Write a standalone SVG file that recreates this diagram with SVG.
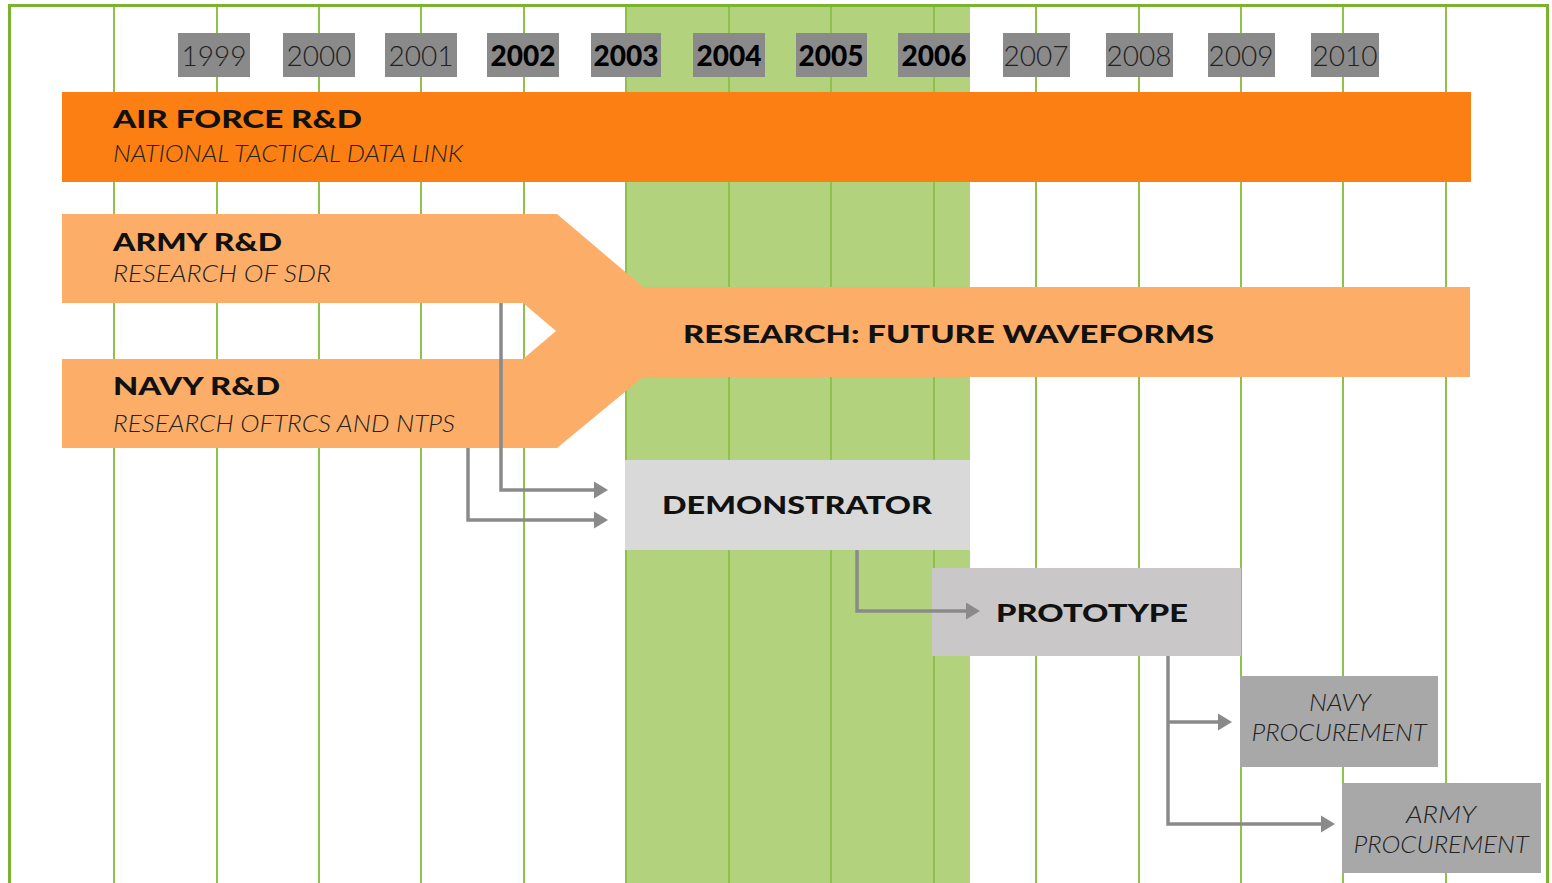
<svg xmlns="http://www.w3.org/2000/svg" width="1552" height="883" viewBox="0 0 1552 883">
<defs>
<style>
.grid{stroke:#8fc24a;stroke-width:2}
.yr{fill:#8a8a8a}
.yt{font-family:Lato,"Liberation Sans",sans-serif;font-size:28px;font-weight:300;fill:#222;text-anchor:middle}
.yb{font-family:Lato,"Liberation Sans",sans-serif;font-size:28px;font-weight:900;fill:#000;text-anchor:middle}
.h{font-family:Lato,"Liberation Sans",sans-serif;font-size:25px;font-weight:900;fill:#111}
.s{font-family:Lato,"Liberation Sans",sans-serif;font-size:23px;font-weight:300;font-style:italic;fill:#222}
.p{font-family:Lato,"Liberation Sans",sans-serif;font-size:23px;font-weight:300;font-style:italic;fill:#222;text-anchor:middle}
.lo{fill:#fcae69}
.con{fill:none;stroke:#8a8a8a;stroke-width:3.5}
</style>
<marker id="ah" markerWidth="16" markerHeight="20" refX="3" refY="10" orient="auto" markerUnits="userSpaceOnUse">
<path d="M0,1.5 L14,10 L0,18.5 Z" fill="#8a8a8a"/>
</marker>
</defs>
<rect x="0" y="0" width="1552" height="883" fill="#fff"/>
<rect x="626" y="5" width="344" height="878" fill="#b2d27d"/>
<g id="grid">
<line class="grid" x1="114" y1="5" x2="114" y2="883"/>
<line class="grid" x1="217" y1="5" x2="217" y2="883"/>
<line class="grid" x1="319" y1="5" x2="319" y2="883"/>
<line class="grid" x1="421" y1="5" x2="421" y2="883"/>
<line class="grid" x1="524" y1="5" x2="524" y2="883"/>
<line class="grid" x1="626" y1="5" x2="626" y2="883"/>
<line class="grid" x1="729" y1="5" x2="729" y2="883"/>
<line class="grid" x1="831" y1="5" x2="831" y2="883"/>
<line class="grid" x1="934" y1="5" x2="934" y2="883"/>
<line class="grid" x1="1036" y1="5" x2="1036" y2="883"/>
<line class="grid" x1="1139" y1="5" x2="1139" y2="883"/>
<line class="grid" x1="1241" y1="5" x2="1241" y2="883"/>
<line class="grid" x1="1343" y1="5" x2="1343" y2="883"/>
<line class="grid" x1="1446" y1="5" x2="1446" y2="883"/>
</g>
<rect x="9.5" y="5.5" width="1538" height="890" fill="none" stroke="#7ab32e" stroke-width="3"/>
<g id="years">
<rect class="yr" x="178" y="33" width="72" height="44"/><text class="yt" x="214" y="66">1999</text>
<rect class="yr" x="283" y="33" width="72" height="44"/><text class="yt" x="319" y="66">2000</text>
<rect class="yr" x="385" y="33" width="72" height="44"/><text class="yt" x="421" y="66">2001</text>
<rect class="yr" x="487" y="33" width="72" height="44"/><text class="yb" x="523" y="66">2002</text>
<rect class="yr" x="591" y="33" width="70" height="44"/><text class="yb" x="626" y="66">2003</text>
<rect class="yr" x="693" y="33" width="72" height="44"/><text class="yb" x="729" y="66">2004</text>
<rect class="yr" x="796" y="33" width="71" height="44"/><text class="yb" x="831" y="66">2005</text>
<rect class="yr" x="898" y="33" width="72" height="44"/><text class="yb" x="934" y="66">2006</text>
<rect class="yr" x="1003" y="33" width="67" height="44"/><text class="yt" x="1036" y="66">2007</text>
<rect class="yr" x="1106" y="33" width="67" height="44"/><text class="yt" x="1139" y="66">2008</text>
<rect class="yr" x="1208" y="33" width="67" height="44"/><text class="yt" x="1241" y="66">2009</text>
<rect class="yr" x="1311" y="33" width="68" height="44"/><text class="yt" x="1345" y="66">2010</text>
</g>
<g id="airforce">
<rect x="62" y="92" width="1409" height="90" fill="#fb7f13"/>
<text class="h" x="113" y="128" textLength="249" lengthAdjust="spacingAndGlyphs">AIR FORCE R&amp;D</text>
<text class="s" x="113" y="162" textLength="350" lengthAdjust="spacingAndGlyphs">NATIONAL TACTICAL DATA LINK</text>
</g>
<g id="research">
<rect class="lo" x="600" y="287" width="870" height="90"/>
<text class="h" x="683" y="343" font-size="26" textLength="531" lengthAdjust="spacingAndGlyphs">RESEARCH: FUTURE WAVEFORMS</text>
</g>
<g id="army">
<polygon class="lo" points="62,214 557,214 643,287 643,350 580,350 556,331 523,303 62,303"/>
<text class="h" x="113" y="251" textLength="169" lengthAdjust="spacingAndGlyphs">ARMY R&amp;D</text>
<text class="s" x="113" y="282" textLength="218" lengthAdjust="spacingAndGlyphs">RESEARCH OF SDR</text>
</g>
<g id="navy">
<polygon class="lo" points="62,359 523,359 556,331 580,312 643,312 643,377 557,448 62,448"/>
<text class="h" x="113" y="395" textLength="167" lengthAdjust="spacingAndGlyphs">NAVY R&amp;D</text>
<text class="s" x="113" y="432" textLength="342" lengthAdjust="spacingAndGlyphs">RESEARCH OFTRCS AND NTPS</text>
</g>
<g id="demonstrator">
<rect x="625" y="460" width="345" height="90" fill="#d9d9d9"/>
<text class="h" x="662" y="514" font-size="26" textLength="270" lengthAdjust="spacingAndGlyphs">DEMONSTRATOR</text>
</g>
<g id="prototype">
<rect x="932" y="568" width="309" height="88" fill="#c9c7c7"/>
<text class="h" x="996" y="622" font-size="26" textLength="192" lengthAdjust="spacingAndGlyphs">PROTOTYPE</text>
</g>
<g id="navyproc">
<rect x="1240" y="676" width="198" height="91" fill="#a8a8a8"/>
<text class="p" x="1340" y="711" textLength="62" lengthAdjust="spacingAndGlyphs">NAVY</text>
<text class="p" x="1339" y="741" textLength="175" lengthAdjust="spacingAndGlyphs">PROCUREMENT</text>
</g>
<g id="armyproc">
<rect x="1342" y="783" width="199" height="90" fill="#a8a8a8"/>
<text class="p" x="1441" y="823" textLength="70" lengthAdjust="spacingAndGlyphs">ARMY</text>
<text class="p" x="1441" y="853" textLength="175" lengthAdjust="spacingAndGlyphs">PROCUREMENT</text>
</g>
<g id="connectors">
<path class="con" d="M501,303 V490 H597" marker-end="url(#ah)"/>
<path class="con" d="M468,448 V520 H597" marker-end="url(#ah)"/>
<path class="con" d="M857,550 V611 H969" marker-end="url(#ah)"/>
<path class="con" d="M1168,656 V824 H1324" marker-end="url(#ah)"/>
<path class="con" d="M1168,722 H1221" marker-end="url(#ah)"/>
</g>
</svg>
